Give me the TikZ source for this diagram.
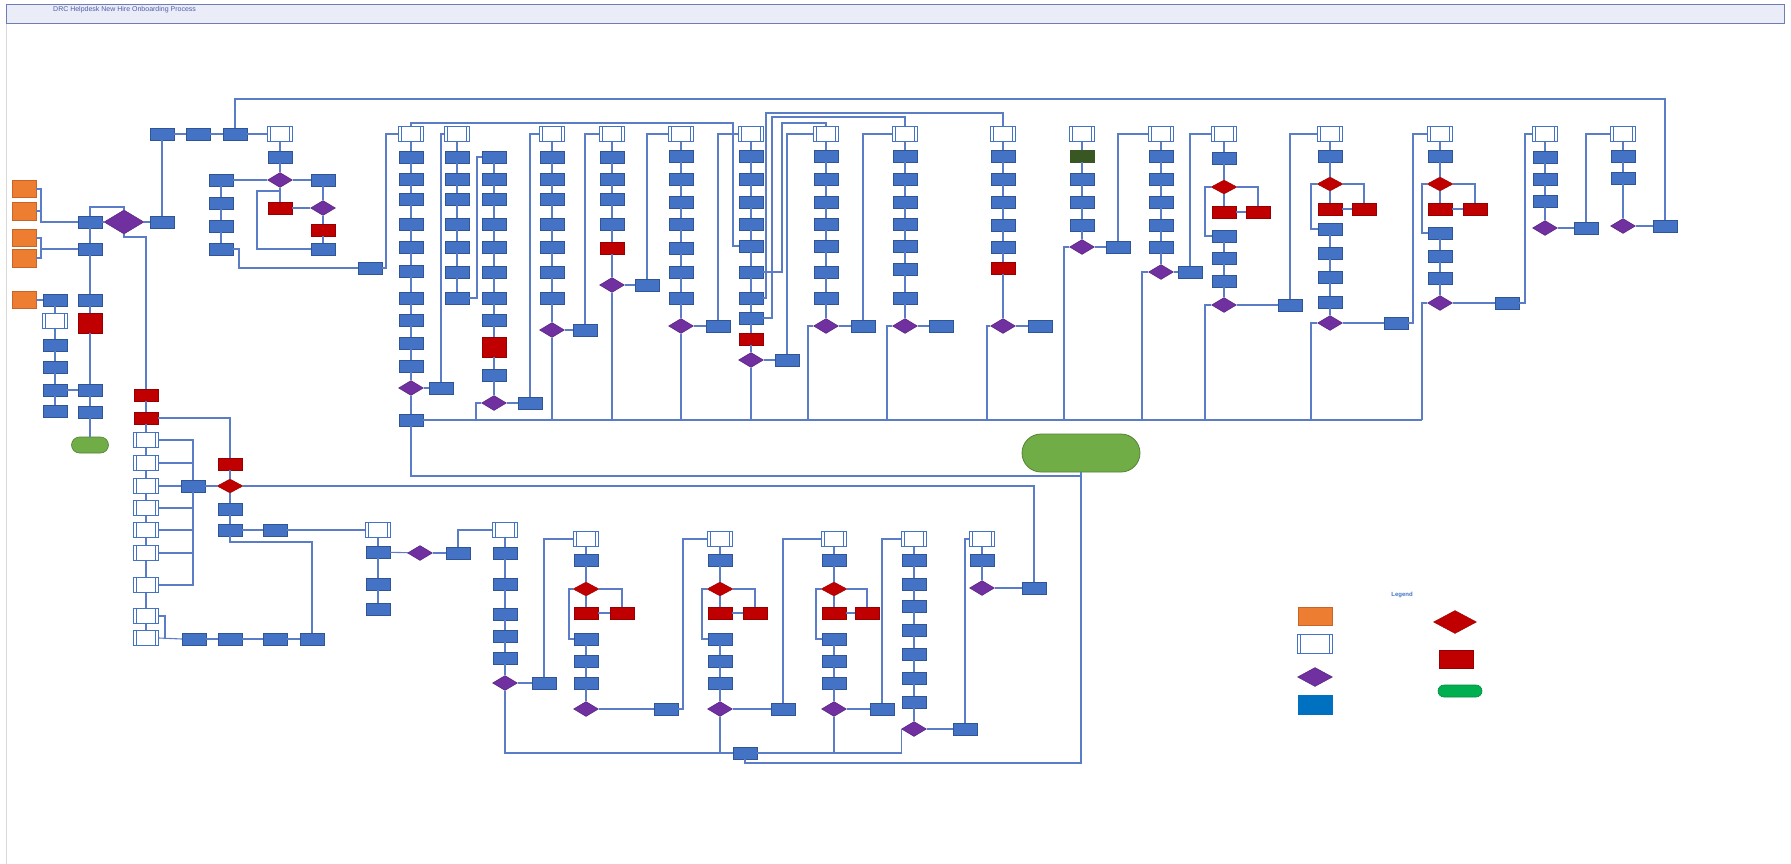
\documentclass[tikz,border=0pt]{standalone}
\usepackage{fontspec}
\setmainfont{Liberation Sans}
\usetikzlibrary{shapes.geometric,shapes.misc}
\definecolor{cBlue}{RGB}{68,114,196}
\definecolor{cBlueD}{RGB}{47,85,151}
\definecolor{cBlue2}{RGB}{0,112,192}
\definecolor{cRed}{RGB}{192,0,0}
\definecolor{cRedD}{RGB}{150,0,0}
\definecolor{cPurp}{RGB}{112,48,160}
\definecolor{cPurpD}{RGB}{80,30,120}
\definecolor{cOrange}{RGB}{237,125,49}
\definecolor{cOrangeD}{RGB}{200,100,40}
\definecolor{cGreen}{RGB}{112,173,71}
\definecolor{cGreenD}{RGB}{84,130,53}
\definecolor{cGreen2}{RGB}{0,176,80}
\definecolor{cDkGreen}{RGB}{56,87,35}
\definecolor{cLine}{RGB}{91,125,200}
\definecolor{cTitle}{RGB}{234,236,247}
\definecolor{cTitleD}{RGB}{110,125,180}
\definecolor{cTitleT}{RGB}{80,95,170}
\tikzset{
 sty/.style={#1},
 cn/.style={draw=cLine, line width=1.1pt},
 base/.style={rectangle, inner sep=0pt, line width=0.4pt},
 pb/.style={base, fill=cBlue, draw=cBlueD, minimum width=24pt, minimum height=12pt},
 rb/.style={base, fill=cRed, draw=cRedD, minimum width=24pt, minimum height=12pt},
 rt/.style={rb, minimum height=20pt},
 gb/.style={base, fill=cDkGreen, draw=cDkGreen, minimum width=24pt, minimum height=12pt},
 ob/.style={base, fill=cOrange, draw=cOrangeD, minimum width=24pt, minimum height=17pt},
 sb/.style={rectangle, draw=cBlue, line width=0.7pt, fill=white, minimum width=25pt, minimum height=15pt, inner sep=0pt,
   path picture={\draw[cBlue, line width=0.7pt]
     ([xshift=3pt]path picture bounding box.north west) -- ([xshift=3pt]path picture bounding box.south west)
     ([xshift=-3pt]path picture bounding box.north east) -- ([xshift=-3pt]path picture bounding box.south east);}},
 dm/.style={diamond, fill=cPurp, draw=cPurpD, line width=0.4pt, inner sep=0pt, minimum width=25pt, minimum height=15pt},
 rd/.style={dm, fill=cRed, draw=cRedD, minimum width=26pt, minimum height=14pt},
 gt/.style={rounded rectangle, fill=cGreen, draw=cGreenD, line width=0.6pt, inner sep=0pt, minimum width=37pt, minimum height=16pt},
}
\newcommand\mycol[3]{%
  \foreach \yy/\ss [count=\ii] in {#3}{\node[sty/.expanded=\ss] (#1-\ii) at (#2,\yy) {};}%
  \foreach \yy/\ss [count=\ii, remember=\ii as \pp (initially 0)] in {#3}{\ifnum\ii>1 \draw[cn] (#1-\pp) -- (#1-\ii);\fi}%
}
\begin{document}
\begin{tikzpicture}[x=1pt,y=-1pt]
\useasboundingbox (0,0) rectangle (1791,864);
\fill[white] (0,0) rectangle (1791,864);
\draw[black!15, line width=0.6pt] (6,23) -- (6,864);
% title bar
\node[draw=cTitleD, fill=cTitle, line width=0.8pt, anchor=north west, minimum width=1778pt, minimum height=19pt, inner sep=0pt] (bar) at (6,4) {};
\node[anchor=west, text=cTitleT, font=\fontsize{7}{8}\selectfont, inner sep=0pt] (title) at (53,10) {DRC Helpdesk New Hire Onboarding Process};

% ---------------- left section
\node[ob] (o1) at (24,189) {};
\node[ob, minimum height=18pt] (o2) at (24,211) {};
\node[ob] (o3) at (24,238) {};
\node[ob, minimum height=18pt] (o4) at (24,258) {};
\node[ob] (o5) at (24,300) {};
\mycol{lr}{90}{222/pb,249/pb,300/pb,323/rt,390/pb,412/pb,445/gt}
\mycol{lw}{55}{300/pb,321/sb,345/pb,367/pb,390/pb,411/pb}
\node[dm, minimum width=40pt, minimum height=24pt] (D1) at (124,222) {};
\node[pb] (N0) at (162,222) {};

% ---------------- top left
\node[pb] (P1) at (162,134) {};
\node[pb] (P2) at (198,134) {};
\node[pb] (P3) at (235,134) {};
\mycol{tq}{280}{134/sb,157/pb,180/dm,208/rb}
\mycol{tn}{323}{180/pb,208/dm,230/rb,249/pb}
\mycol{ty}{221}{180/pb,203/pb,226/pb,249/pb}
\node[pb] (T) at (370,268) {};
\coordinate (lp) at (280,191);

% ---------------- top columns
\mycol{c1}{411}{134/sb,157/pb,179/pb,199/pb,224/pb,247/pb,271/pb,298/pb,320/pb,343/pb,366/pb,388/dm,420/pb}
\node[pb] (c1N) at (441,388) {};
\mycol{c2}{457}{134/sb,157/pb,179/pb,199/pb,224/pb,247/pb,272/pb,298/pb}
\mycol{c3}{494}{157/pb,179/pb,199/pb,224/pb,247/pb,272/pb,298/pb,320/pb,347/rt,375/pb,403/dm}
\node[pb] (c3N) at (530,403) {};
\mycol{c4}{552}{134/sb,157/pb,179/pb,199/pb,224/pb,247/pb,272/pb,298/pb,330/dm}
\node[pb] (c4N) at (585,330) {};
\mycol{c5}{612}{134/sb,157/pb,179/pb,199/pb,224/pb,248/rb,285/dm}
\node[pb] (c5N) at (647,285) {};
\mycol{c6}{681}{134/sb,156/pb,179/pb,202/pb,224/pb,248/pb,272/pb,298/pb,326/dm}
\node[pb] (c6N) at (718,326) {};
\mycol{c7}{751}{134/sb,156/pb,179/pb,202/pb,224/pb,246/pb,272/pb,298/pb,318/pb,339/rb,360/dm}
\node[pb] (c7N) at (787,360) {};
\mycol{c8}{826}{134/sb,156/pb,179/pb,202/pb,224/pb,246/pb,272/pb,298/pb,326/dm}
\node[pb] (c8N) at (863,326) {};
\mycol{c9}{905}{134/sb,156/pb,179/pb,202/pb,224/pb,246/pb,269/pb,298/pb,326/dm}
\node[pb] (c9N) at (941,326) {};
\mycol{c10}{1003}{134/sb,156/pb,179/pb,202/pb,225/pb,247/pb,268/rb,326/dm}
\node[pb] (c10N) at (1040,326) {};
\mycol{c11}{1082}{134/sb,156/gb,179/pb,202/pb,225/pb,247/dm}
\node[pb] (c11N) at (1118,247) {};
\mycol{c12}{1161}{134/sb,156/pb,179/pb,202/pb,225/pb,247/pb,272/dm}
\node[pb] (c12N) at (1190,272) {};
\mycol{c13}{1224}{134/sb,158/pb,187/rd,212/rb}
\node[rb] (c13R) at (1258,212) {};
\mycol{c13b}{1224}{236/pb,258/pb,281/pb,305/dm}
\node[pb] (c13N) at (1290,305) {};
\mycol{c14}{1330}{134/sb,156/pb,184/rd,209/rb}
\node[rb] (c14R) at (1364,209) {};
\mycol{c14b}{1330}{229/pb,253/pb,277/pb,302/pb,323/dm}
\node[pb] (c14N) at (1396,323) {};
\mycol{c15}{1440}{134/sb,156/pb,184/rd,209/rb}
\node[rb] (c15R) at (1475,209) {};
\mycol{c15b}{1440}{233/pb,256/pb,278/pb,303/dm}
\node[pb] (c15N) at (1507,303) {};
\mycol{c16}{1545}{134/sb,157/pb,179/pb,201/pb,228/dm}
\node[pb] (c16N) at (1586,228) {};
\mycol{c17}{1623}{134/sb,156/pb,178/pb,226/dm}
\node[pb] (c17N) at (1665,226) {};
\node[gt, minimum width=118pt, minimum height=38pt, line width=0.8pt] (T2) at (1081,453) {};

% ---------------- bottom left
\mycol{ls}{146}{395/rb,418/rb,440/sb,463/sb,486/sb,508/sb,530/sb,553/sb,585/sb,616/sb,638/sb}
\mycol{rm}{230}{464/rb,486/rd,509/pb,530/pb}
\node[pb] (X) at (193,486) {};
\node[pb] (BB3) at (275,530) {};
\node[pb] (BL1) at (194,639) {};
\node[pb] (BL2) at (230,639) {};
\node[pb] (BL3) at (275,639) {};
\node[pb] (BB4) at (312,639) {};

% ---------------- bottom middle
\mycol{bu}{378}{530/sb,552/pb,584/pb,609/pb}
\node[dm] (DU) at (420,553) {};
\node[pb] (NU) at (458,553) {};
\mycol{bv}{505}{530/sb,553/pb,584/pb,614/pb,636/pb,658/pb,683/dm}
\node[pb] (NV) at (544,683) {};
\mycol{bB}{586}{539/sb,560/pb,589/rd,613/rb}
\node[rb] (bBR) at (622,613) {};
\mycol{bBb}{586}{639/pb,661/pb,683/pb,709/dm}
\node[pb] (NB) at (666,709) {};
\mycol{bC}{720}{539/sb,560/pb,589/rd,613/rb}
\node[rb] (bCR) at (755,613) {};
\mycol{bCb}{720}{639/pb,661/pb,683/pb,709/dm}
\node[pb] (NC) at (783,709) {};
\mycol{bD}{834}{539/sb,560/pb,589/rd,613/rb}
\node[rb] (bDR) at (867,613) {};
\mycol{bDb}{834}{639/pb,661/pb,683/pb,709/dm}
\node[pb] (ND) at (882,709) {};
\mycol{bE}{914}{539/sb,560/pb,584/pb,606/pb,630/pb,654/pb,678/pb,702/pb,729/dm}
\node[pb] (NE) at (965,729) {};
\mycol{bF}{982}{539/sb,560/pb,588/dm}
\node[pb] (Nx) at (1034,588) {};
\node[pb] (YB) at (745,753) {};

% ---------------- legend
\node[text=cBlue, font=\bfseries\fontsize{6}{7}\selectfont] (lgT) at (1402,595) {Legend};
\node[ob, minimum width=34pt, minimum height=18pt] (lg1) at (1315,616) {};
\node[sb, minimum width=35pt, minimum height=19pt] (lg2) at (1315,644) {};
\node[dm, minimum width=35pt, minimum height=19pt] (lg3) at (1315,677) {};
\node[pb, fill=cBlue2, draw=cBlue2, minimum width=34pt, minimum height=19pt] (lg4) at (1315,705) {};
\node[rd, minimum width=43pt, minimum height=23pt] (lg5) at (1455,622) {};
\node[rb, minimum width=34pt, minimum height=18pt] (lg6) at (1456,659) {};
\node[gt, fill=cGreen2, draw=cGreen2!80!black, minimum width=44pt, minimum height=12pt] (lg7) at (1460,691) {};

% ================= connectors
\coordinate (k1) at (41,222);
\coordinate (k2) at (41,249);
\draw[cn] (o1.east) -| (k1) -- (lr-1.west);
\draw[cn] (o2.east) -| (k1);
\draw[cn] (o3.east) -| (k2) -- (lr-2.west);
\draw[cn] (o4.east) -| (k2);
\draw[cn] (o5.east) -- (lw-1.west);
\draw[cn] (lr-1.east) -- (D1.west);
\draw[cn] (lr-1.north) |- (124,207) -- (D1.north);
\draw[cn] (D1.east) -- (N0.west);
\draw[cn] (lw-5.east) -- (lr-5.west);
\draw[cn] (N0) -- (P1);
\draw[cn] (P1) -- (P2);
\draw[cn] (P2) -- (P3);
\draw[cn] (P3) -- (tq-1);
\draw[cn] (tq-3) -- (ty-1);
\draw[cn] (tq-3) -- (tn-1);
\draw[cn] (tq-4) -- (tn-2);
\draw[cn] (lp) -- (257,191) -- (257,249) -- (tn-4.west);
\draw[cn] (ty-4.east) -- (239,249) -- (239,268) -- (T.west);
\draw[cn] (T.east) -- (386,268) |- (c1-1.west);
\draw[cn] (c17N.north) |- (235,99) -- (P3.north);

\draw[cn] (c1-1.north) |- (733,123) -- (733,246) -- (c7-6.west);
\draw[cn] (c1-12) -- (c1N);
\draw[cn] (c1N.north) |- (c2-1.west);
\draw[cn] (c2-8.east) -- (477,298) |- (c3-1.west);
\draw[cn] (c3-11) -- (c3N);
\draw[cn] (c3N.north) |- (c4-1.west);
\draw[cn] (c4-9) -- (c4N);
\draw[cn] (c4N.north) |- (c5-1.west);
\draw[cn] (c5-7) -- (c5N);
\draw[cn] (c5N.north) |- (c6-1.west);
\draw[cn] (c6-9) -- (c6N);
\draw[cn] (c6N.north) |- (c7-1.west);
\draw[cn] (c7-11) -- (c7N);
\draw[cn] (c7N.north) |- (c8-1.west);
\draw[cn] (c7-7.east) -- (782,272) |- (826,123) -- (c8-1.north);
\draw[cn] (c7-8.east) -- (766,298) |- (1003,113) -- (c10-1.north);
\draw[cn] (c7-9.east) -- (772,318) |- (905,117) -- (c9-1.north);
\draw[cn] (c8-9) -- (c8N);
\draw[cn] (c8N.north) |- (c9-1.west);
\draw[cn] (c9-9) -- (c9N);
\draw[cn] (c10-8) -- (c10N);
\draw[cn] (c11-6) -- (c11N);
\draw[cn] (c11N.north) |- (c12-1.west);
\draw[cn] (c12-7) -- (c12N);
\draw[cn] (c12N.north) |- (c13-1.west);
\draw[cn] (c13-3.east) -| (c13R.north);
\draw[cn] (c13-4) -- (c13R);
\draw[cn] (c13-3.west) -- (1205,187) |- (c13b-1.west);
\draw[cn] (c13b-4) -- (c13N);
\draw[cn] (c13N.north) |- (c14-1.west);
\draw[cn] (c14-3.east) -| (c14R.north);
\draw[cn] (c14-4) -- (c14R);
\draw[cn] (c14-3.west) -- (1311,184) |- (c14b-1.west);
\draw[cn] (c14b-5) -- (c14N);
\draw[cn] (c14N.east) -- (1413,323) |- (c15-1.west);
\draw[cn] (c15-3.east) -| (c15R.north);
\draw[cn] (c15-4) -- (c15R);
\draw[cn] (c15-3.west) -- (1422,184) |- (c15b-1.west);
\draw[cn] (c15b-4) -- (c15N);
\draw[cn] (c15N.east) -- (1525,303) |- (c16-1.west);
\draw[cn] (c16-5) -- (c16N);
\draw[cn] (c16N.north) |- (c17-1.west);
\draw[cn] (c17-4) -- (c17N);

% bus
\draw[cn] (c1-13.east) -- (1422,420);
\draw[cn] (c3-11.west) -- (476,403) -- (476,420);
\draw[cn] (c4-9.south) -- (552,420);
\draw[cn] (c5-7.south) -- (612,420);
\draw[cn] (c6-9.south) -- (681,420);
\draw[cn] (c7-11.south) -- (751,420);
\draw[cn] (c8-9.west) -- (808,326) -- (808,420);
\draw[cn] (c9-9.west) -- (887,326) -- (887,420);
\draw[cn] (c10-8.west) -- (987,326) -- (987,420);
\draw[cn] (c11-6.west) -- (1064,247) -- (1064,420);
\draw[cn] (c12-7.west) -- (1142,272) -- (1142,420);
\draw[cn] (c13b-4.west) -- (1205,305) -- (1205,420);
\draw[cn] (c14b-5.west) -- (1311,323) -- (1311,420);
\draw[cn] (c15b-4.west) -- (1422,303) -- (1422,420);
\draw[cn] (c1-13.south) |- (1081,476) -- (T2.south);
\draw[cn] (T2.south) -- (1081,763) -| (YB.south);

% bottom left
\draw[cn] (D1.south) -- (124,237) -| (ls-1.north);
\draw[cn] (ls-2.east) -| (rm-1.north);
\draw[cn] (ls-3.east) -| (X.north);
\draw[cn] (ls-9.east) -| (X.south);
\draw[cn] (ls-4.east) -- (193,463);
\draw[cn] (ls-5.east) -- (X.west);
\draw[cn] (ls-6.east) -- (193,508);
\draw[cn] (ls-7.east) -- (193,530);
\draw[cn] (ls-8.east) -- (193,553);
\draw[cn] (X.east) -- (rm-2.west);
\draw[cn] (rm-2.east) -| (Nx.north);
\draw[cn] (rm-4.east) -- (BB3.west);
\draw[cn] (BB3.east) -- (bu-1.west);
\draw[cn] (rm-4.south) -- (230,542) -| (BB4.north);
\draw[cn] (ls-10.east) -- (165,616) -- (165,639);
\draw[cn] (ls-11.east) -- (BL1.west);
\draw[cn] (BL1) -- (BL2);
\draw[cn] (BL2) -- (BL3);
\draw[cn] (BL3) -- (BB4);

% bottom middle
\draw[cn] (bu-2) -- (DU);
\draw[cn] (DU) -- (NU);
\draw[cn] (NU.north) |- (bv-1.west);
\draw[cn] (bv-7) -- (NV);
\draw[cn] (NV.north) |- (bB-1.west);
\draw[cn] (bv-7.south) |- (YB.west);
\draw[cn] (bB-3.east) -| (bBR.north);
\draw[cn] (bB-4) -- (bBR);
\draw[cn] (bB-3.west) -- (569,589) |- (bBb-1.west);
\draw[cn] (bBb-4) -- (NB);
\draw[cn] (NB.east) -- (683,709) |- (bC-1.west);
\draw[cn] (bC-3.east) -| (bCR.north);
\draw[cn] (bC-4) -- (bCR);
\draw[cn] (bC-3.west) -- (702,589) |- (bCb-1.west);
\draw[cn] (bCb-4) -- (NC);
\draw[cn] (NC.north) |- (bD-1.west);
\draw[cn] (bCb-4.south) -- (720,753);
\draw[cn] (bD-3.east) -| (bDR.north);
\draw[cn] (bD-4) -- (bDR);
\draw[cn] (bD-3.west) -- (816,589) |- (bDb-1.west);
\draw[cn] (bDb-4) -- (ND);
\draw[cn] (ND.north) |- (bE-1.west);
\draw[cn] (bDb-4.south) -- (834,753);
\draw[cn] (YB.east) -| (bE-9.west);
\draw[cn] (bE-9) -- (NE);
\draw[cn] (NE.north) |- (bF-1.west);
\draw[cn] (bF-3) -- (Nx);
\end{tikzpicture}
\end{document}
